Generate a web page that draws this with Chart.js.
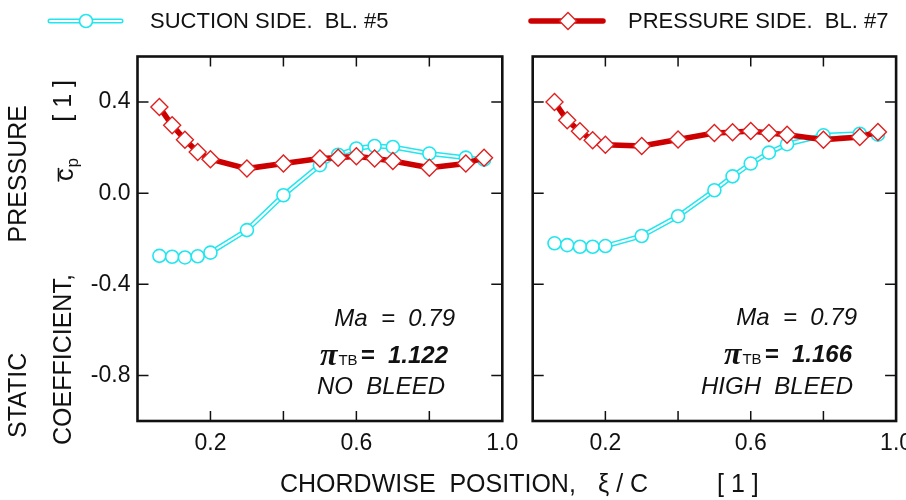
<!DOCTYPE html>
<html>
<head>
<meta charset="utf-8">
<title>Static pressure coefficient</title>
<script src="https://cdn.jsdelivr.net/npm/chart.js@4.4.1/dist/chart.umd.min.js"></script>
<style>
  body { margin: 0; background: #fff; }
  #wrap { position: relative; width: 906px; height: 500px; }
  #wrap canvas { position: absolute; left: 0; top: 0; }
</style>
</head>
<body>
<div id="wrap">
  <canvas id="noBleed" width="906" height="500"></canvas>
  <canvas id="highBleed" width="906" height="500"></canvas>
</div>
<script>
// chordwise tap positions xi/C
const chordPos = [0.06, 0.095, 0.13, 0.165, 0.2, 0.3, 0.4, 0.5, 0.55, 0.6, 0.65, 0.7, 0.8, 0.9, 0.95];

// no bleed
const suctionNoBleed  = [-0.275, -0.279, -0.282, -0.277, -0.261, -0.162, -0.009, 0.123, 0.169, 0.196, 0.207, 0.203, 0.174, 0.156, 0.147];
const pressureNoBleed = [0.378, 0.298, 0.235, 0.181, 0.149, 0.108, 0.130, 0.152, 0.156, 0.162, 0.152, 0.141, 0.112, 0.130, 0.156];

// high bleed
const suctionHighBleed  = [-0.220, -0.228, -0.235, -0.235, -0.232, -0.188, -0.101, 0.013, 0.074, 0.130, 0.178, 0.215, 0.254, 0.261, 0.257];
const pressureHighBleed = [0.400, 0.320, 0.272, 0.232, 0.213, 0.207, 0.236, 0.264, 0.267, 0.273, 0.264, 0.257, 0.235, 0.247, 0.269];

const xTickLabels = [0.2, 0.6, 1.0];
const xTickMarks = [0.2, 0.4, 0.6, 0.8];
const yTicks = [0.4, 0.0, -0.4, -0.8];

const CYAN = '#22e6ee';
const RED = '#cc0000';
const SANS = "'Liberation Sans', Arial, sans-serif";

Chart.defaults.font.family = SANS;
Chart.defaults.color = '#111';

function points(ys) {
    return chordPos.map((x, i) => ({ x: x, y: ys[i] }));
}

// box around the plot with short inward ticks on all four sides
const framePlugin = {
    id: 'frame',
    beforeDatasetsDraw(chart) {
        const { ctx, chartArea: a, scales: { x, y } } = chart;
        ctx.save();
        ctx.strokeStyle = '#111';
        ctx.lineWidth = 1.5;
        ctx.beginPath();
        xTickMarks.forEach(v => {
            const px = x.getPixelForValue(v);
            ctx.moveTo(px, a.bottom); ctx.lineTo(px, a.bottom - 10);
            ctx.moveTo(px, a.top); ctx.lineTo(px, a.top + 10);
        });
        yTicks.forEach(v => {
            const py = y.getPixelForValue(v);
            ctx.moveTo(a.left, py); ctx.lineTo(a.left + 11, py);
            ctx.moveTo(a.right, py); ctx.lineTo(a.right - 11, py);
        });
        ctx.stroke();
        ctx.lineWidth = 2.6;
        ctx.strokeRect(a.left, a.top, a.width, a.height);
        ctx.restore();
    }
};

// Mach number, pressure ratio and bleed setting in the lower right corner
const notePlugin = {
    id: 'note',
    afterDraw(chart, args, opts) {
        const ctx = chart.ctx;
        ctx.save();
        ctx.fillStyle = '#111';
        ctx.textBaseline = 'middle';
        ctx.textAlign = 'right';

        ctx.font = 'italic 24px ' + SANS;
        ctx.fillText('Ma  =  0.79', opts.maX, opts.maY);

        ctx.font = 'italic bold 24px ' + SANS;
        const ratio = '=  ' + opts.ratio;
        ctx.fillText(ratio, opts.piX, opts.piY);
        let x = opts.piX - ctx.measureText(ratio).width - 3;
        ctx.font = '15px ' + SANS;
        ctx.textBaseline = 'alphabetic';
        ctx.fillText('TB', x, opts.piY + 9);
        x -= ctx.measureText('TB').width + 1;
        ctx.font = 'italic bold 32px ' + "'Liberation Serif', serif";
        ctx.fillText('\u03c0', x, opts.piY + 9);

        ctx.textBaseline = 'middle';
        ctx.font = 'italic 24px ' + SANS;
        ctx.fillText(opts.bleed, opts.bleedX, opts.bleedY);
        ctx.restore();
    }
};

// legend row and both axis titles, drawn once on the first canvas
const figureTextPlugin = {
    id: 'figureText',
    afterDraw(chart) {
        const ctx = chart.ctx;
        ctx.save();

        // suction side key: double cyan line with open circle
        ctx.lineCap = 'round';
        ctx.strokeStyle = CYAN; ctx.lineWidth = 5;
        ctx.beginPath(); ctx.moveTo(50, 21); ctx.lineTo(121, 21); ctx.stroke();
        ctx.strokeStyle = '#fff'; ctx.lineWidth = 2;
        ctx.beginPath(); ctx.moveTo(50, 21); ctx.lineTo(121, 21); ctx.stroke();
        ctx.beginPath(); ctx.arc(86, 21, 6.5, 0, Math.PI * 2);
        ctx.fillStyle = '#fff'; ctx.fill();
        ctx.strokeStyle = CYAN; ctx.lineWidth = 1.6; ctx.stroke();

        // pressure side key: thick red line with open diamond
        ctx.strokeStyle = RED; ctx.lineWidth = 5.5;
        ctx.beginPath(); ctx.moveTo(531, 21); ctx.lineTo(603, 21); ctx.stroke();
        ctx.beginPath();
        ctx.moveTo(568, 12.5); ctx.lineTo(576.5, 21); ctx.lineTo(568, 29.5); ctx.lineTo(559.5, 21);
        ctx.closePath();
        ctx.fillStyle = '#fff'; ctx.fill();
        ctx.strokeStyle = '#e02020'; ctx.lineWidth = 1.4; ctx.stroke();

        ctx.fillStyle = '#111';
        ctx.textBaseline = 'middle';
        ctx.textAlign = 'left';
        ctx.font = '22px ' + SANS;
        ctx.fillText('SUCTION SIDE.  BL. #5', 150, 22);
        ctx.fillText('PRESSURE SIDE.  BL. #7', 628, 22);

        // x title
        ctx.font = '25px ' + SANS;
        ctx.fillText('CHORDWISE  POSITION,', 280, 485);
        ctx.fillText('\u03be / C', 598, 485);
        ctx.fillText('[ 1 ]', 717, 485);

        // y title, two rotated lines
        ctx.save();
        ctx.translate(19, 0);
        ctx.rotate(-Math.PI / 2);
        ctx.fillText('STATIC', -438, 0);
        ctx.textAlign = 'right';
        ctx.fillText('PRESSURE', -105, 0);
        ctx.restore();

        ctx.save();
        ctx.translate(64, 0);
        ctx.rotate(-Math.PI / 2);
        ctx.fillText('COEFFICIENT,', -445, 0);
        ctx.textBaseline = 'alphabetic';
        ctx.fillText('c', -181, 9);
        const cw = ctx.measureText('c').width;
        ctx.lineWidth = 1.6;
        ctx.strokeStyle = '#111';
        ctx.beginPath(); ctx.moveTo(-181, -5.5); ctx.lineTo(-181 + cw, -5.5); ctx.stroke();
        ctx.font = '17px ' + SANS;
        ctx.fillText('p', -181 + cw + 1, 14);
        ctx.font = '25px ' + SANS;
        ctx.textAlign = 'right';
        ctx.textBaseline = 'middle';
        ctx.fillText('[ 1 ]', -80, 0);
        ctx.restore();

        ctx.restore();
    }
};

function makePanel(id, suction, pressure, pad, showY, note, extraPlugins) {
    return new Chart(document.getElementById(id), {
        type: 'line',
        data: {
            datasets: [
                {
                    // cyan outer stroke of the double line
                    data: points(suction),
                    borderColor: CYAN,
                    borderWidth: 5,
                    pointRadius: 0,
                    order: 3
                },
                {
                    data: points(suction),
                    borderColor: '#fff',
                    borderWidth: 2,
                    pointStyle: 'circle',
                    pointRadius: 6.5,
                    pointBackgroundColor: '#fff',
                    pointBorderColor: CYAN,
                    pointBorderWidth: 1.6,
                    order: 2
                },
                {
                    data: points(pressure),
                    borderColor: RED,
                    borderWidth: 5.5,
                    pointStyle: 'rectRot',
                    pointRadius: 8.5,
                    pointBackgroundColor: '#fff',
                    pointBorderColor: '#e02020',
                    pointBorderWidth: 1.4,
                    order: 1
                }
            ]
        },
        options: {
            responsive: false,
            animation: false,
            devicePixelRatio: 1,
            events: [],
            layout: { padding: pad },
            plugins: {
                legend: { display: false },
                tooltip: { enabled: false },
                note: note
            },
            scales: {
                x: {
                    type: 'linear',
                    min: 0,
                    max: 1,
                    afterBuildTicks: s => { s.ticks = xTickLabels.map(v => ({ value: v })); },
                    afterFit: s => { s.height = 79; s.paddingLeft = 0; s.paddingRight = 0; },
                    ticks: {
                        autoSkip: false,
                        maxRotation: 0,
                        padding: 9,
                        font: { size: 23 },
                        callback: v => Number(v).toFixed(1)
                    },
                    grid: { display: false, drawTicks: false },
                    border: { display: false }
                },
                y: {
                    type: 'linear',
                    display: showY,
                    min: -1.0,
                    max: 0.6,
                    afterBuildTicks: s => { s.ticks = yTicks.map(v => ({ value: v })); },
                    afterFit: s => { s.width = showY ? 137.5 : 0; s.paddingTop = 0; s.paddingBottom = 0; },
                    ticks: {
                        padding: 7,
                        font: { size: 23 },
                        callback: v => Number(v).toFixed(1)
                    },
                    grid: { display: false, drawTicks: false },
                    border: { display: false }
                }
            }
        },
        plugins: [framePlugin, notePlugin].concat(extraPlugins)
    });
}

makePanel('noBleed', suctionNoBleed, pressureNoBleed,
    { left: 0, right: 906 - 502.3, top: 56.5, bottom: 0 }, true,
    { ratio: '1.122', bleed: 'NO  BLEED', maX: 455, maY: 319, piX: 448, piY: 356, bleedX: 445, bleedY: 387 },
    [figureTextPlugin]);

makePanel('highBleed', suctionHighBleed, pressureHighBleed,
    { left: 532.7, right: 906 - 896.7, top: 56.5, bottom: 0 }, false,
    { ratio: '1.166', bleed: 'HIGH  BLEED', maX: 857, maY: 318, piX: 852, piY: 355, bleedX: 853, bleedY: 387 },
    []);
</script>
</body>
</html>
